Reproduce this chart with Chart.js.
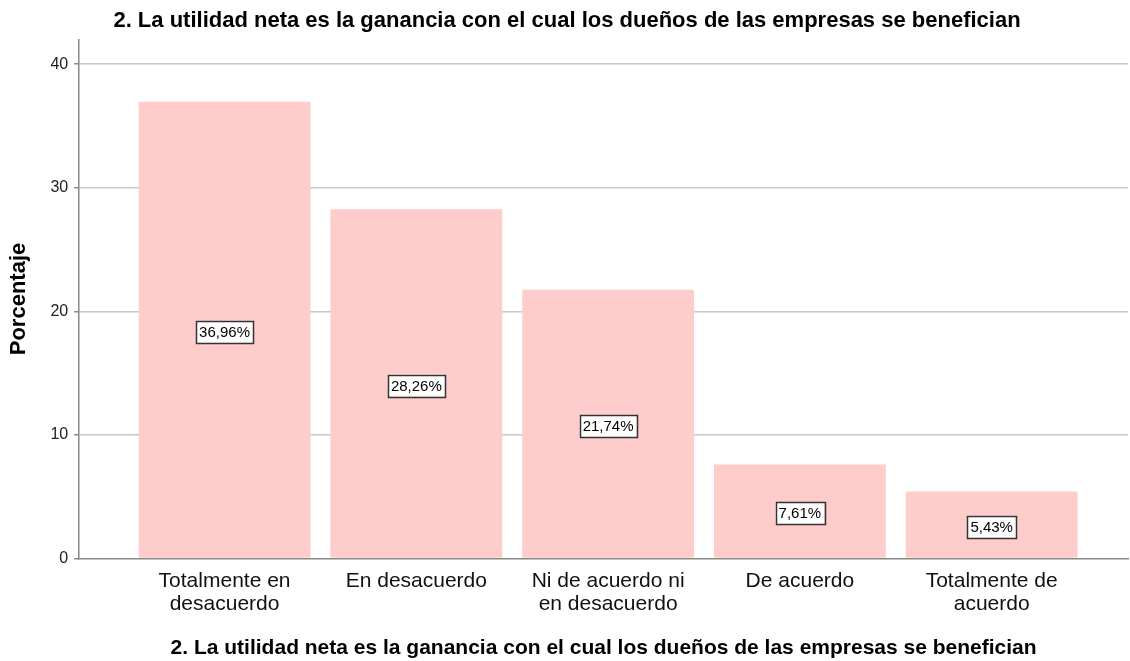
<!DOCTYPE html>
<html>
<head>
<meta charset="utf-8">
<script src="https://cdn.jsdelivr.net/npm/chart.js@4/dist/chart.umd.min.js"></script>
<style>
  html, body { margin: 0; padding: 0; background: #fff; }
  #wrap { width: 1130px; height: 661px; }
</style>
</head>
<body>
<div id="wrap"><canvas id="id-chart"></canvas></div>
<script>
const chart_title = '2. La utilidad neta es la ganancia con el cual los dueños de las empresas se benefician';
const categories = [
  ['Totalmente en', 'desacuerdo'],
  ['En desacuerdo'],
  ['Ni de acuerdo ni', 'en desacuerdo'],
  ['De acuerdo'],
  ['Totalmente de', 'acuerdo']
];
const percent_values = [36.96, 28.26, 21.74, 7.61, 5.43];
const percent_labels = ['36,96%', '28,26%', '21,74%', '7,61%', '5,43%'];
const y_ticks = [0, 10, 20, 30, 40];

const FONT = '"Liberation Sans", Arial, sans-serif';

// draws the boxed percentage in the middle of each bar
const boxLabels =
{
  id: 'boxLabels',
  afterDatasetsDraw(chart)
  {
    const ctx = chart.ctx;
    const meta = chart.getDatasetMeta(0);
    ctx.save();
    ctx.font = '15px ' + FONT;
    ctx.textAlign = 'center';
    ctx.textBaseline = 'middle';
    meta.data.forEach((bar, i) =>
    {
      const cy = (bar.y + bar.base) / 2 + 2;
      const txt = percent_labels[i];
      const w = ctx.measureText(txt).width + 6;
      const h = 22;
      ctx.fillStyle = '#fff';
      ctx.fillRect(bar.x - w / 2, cy - h / 2, w, h);
      ctx.strokeStyle = '#333';
      ctx.lineWidth = 1.5;
      ctx.strokeRect(Math.round(bar.x - w / 2) + 0.5, Math.round(cy - h / 2) + 0.5, Math.round(w), h);
      ctx.fillStyle = '#000';
      ctx.fillText(txt, bar.x, cy + 1);
    });
    ctx.restore();
  }
};

document.addEventListener('DOMContentLoaded', function()
{
  const ctx = document.getElementById('id-chart').getContext('2d');

  new Chart(ctx,
  {
    type: 'bar',
    data:
    {
      datasets:
      [
        {
          data: percent_values.map((v, i) => ({ x: i, y: v })),
          backgroundColor: 'rgb(255, 204, 204)',
          borderWidth: 0,
          categoryPercentage: 1,
          barPercentage: 0.896
        }
      ]
    },
    options:
    {
      animation: false,
      responsive: true,
      maintainAspectRatio: false,
      layout: { padding: { top: 2, right: 2, left: 6, bottom: 0 } },
      plugins:
      {
        legend: { display: false },
        tooltip: { enabled: false },
        title:
        {
          display: true,
          text: chart_title,
          color: '#000',
          font: { family: FONT, size: 22, weight: 'bold' },
          padding: { top: 6, bottom: 5 }
        }
      },
      scales:
      {
        x:
        {
          type: 'linear',
          offset: false,
          min: -0.758,
          max: 4.711,
          afterBuildTicks: (scale) => { scale.ticks = categories.map((c, i) => ({ value: i })); },
          ticks:
          {
            autoSkip: false,
            maxRotation: 0,
            color: '#111',
            font: { family: FONT, size: 21, lineHeight: 1.1 },
            padding: 11,
            callback: (v) => categories[v]
          },
          grid: { display: false, drawTicks: false },
          border: { display: true, color: '#888', width: 1.5 },
          title:
          {
            display: true,
            text: chart_title,
            color: '#000',
            font: { family: FONT, size: 21, weight: 'bold' },
            padding: { top: 9, bottom: 0 }
          }
        },
        y:
        {
          min: 0,
          max: 42,
          afterBuildTicks: (scale) => { scale.ticks = y_ticks.map(v => ({ value: v })); },
          ticks:
          {
            color: '#222',
            font: { family: FONT, size: 16 },
            padding: 6
          },
          grid:
          {
            color: (c) => c.tick && c.tick.value === 0 ? 'rgba(0,0,0,0)' : '#c8c8c8',
            lineWidth: 1.5,
            tickLength: 5,
            tickColor: '#888'
          },
          border: { display: true, color: '#888', width: 1.5 },
          title:
          {
            display: true,
            text: 'Porcentaje',
            color: '#000',
            font: { family: FONT, size: 22, weight: 'bold' },
            padding: { top: 0, bottom: 12 }
          }
        }
      }
    },
    plugins: [boxLabels]
  });
});
</script>
</body>
</html>
